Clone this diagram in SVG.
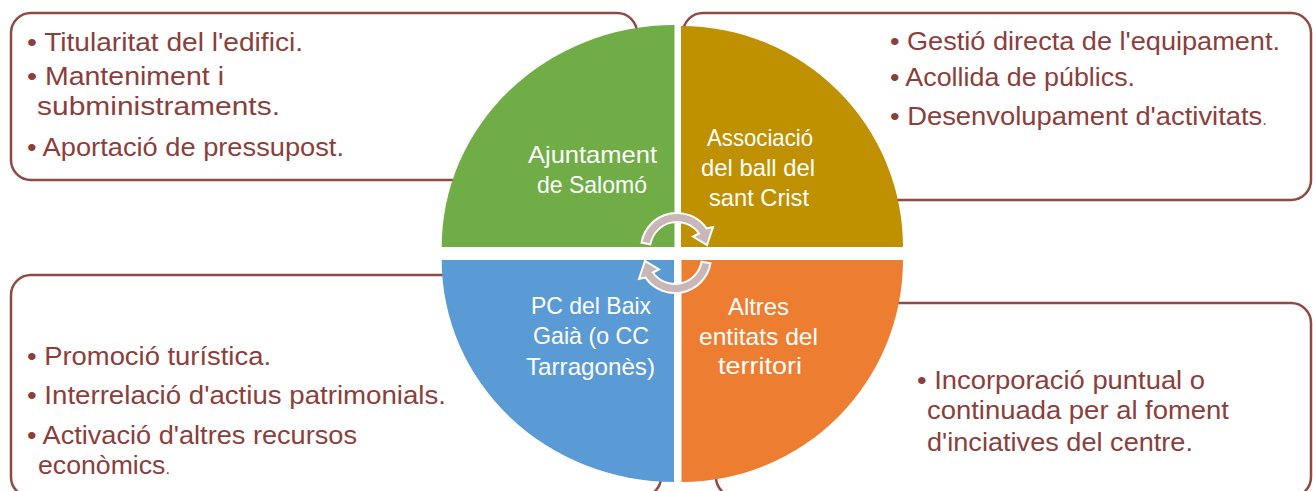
<svg xmlns="http://www.w3.org/2000/svg" width="1313" height="491" viewBox="0 0 1313 491">
<style>
.box{fill:#fff;stroke:#8F4A46;stroke-width:2.5}
.bt{font-family:"Liberation Sans",Arial,sans-serif;font-size:26px;fill:#8A3F3D}
.qt{font-family:"Liberation Sans",Arial,sans-serif;font-size:24px;fill:#fff;text-anchor:middle}
.arr{fill:#C9B6B6;stroke:#fff;stroke-width:2;stroke-linejoin:miter}
</style>
<rect width="1313" height="491" fill="#fff"/>
<g id="box-tl">
<rect class="box" x="11" y="13" width="626" height="167" rx="20"/>
<text class="bt" x="27" y="51" textLength="276" lengthAdjust="spacingAndGlyphs">• Titularitat del l'edifici.</text>
<text class="bt" x="27" y="85" textLength="197" lengthAdjust="spacingAndGlyphs">• Manteniment i</text>
<text class="bt" x="37" y="115" textLength="243" lengthAdjust="spacingAndGlyphs">subministraments.</text>
<text class="bt" x="27" y="156" textLength="317" lengthAdjust="spacingAndGlyphs">• Aportació de pressupost.</text>
</g>
<g id="box-tr">
<rect class="box" x="683" y="13" width="628" height="187" rx="20"/>
<text class="bt" x="890" y="50" textLength="390" lengthAdjust="spacingAndGlyphs">• Gestió directa de l'equipament.</text>
<text class="bt" x="890" y="86" textLength="245" lengthAdjust="spacingAndGlyphs">• Acollida de públics.</text>
<text class="bt" x="890" y="125" textLength="377" lengthAdjust="spacingAndGlyphs">• Desenvolupament d'activitats<tspan font-size="16">.</tspan></text>
</g>
<g id="box-bl">
<rect class="box" x="11" y="275" width="650" height="222" rx="20"/>
<text class="bt" x="27" y="365" textLength="244" lengthAdjust="spacingAndGlyphs">• Promoció turística.</text>
<text class="bt" x="27" y="404" textLength="419" lengthAdjust="spacingAndGlyphs">• Interrelació d'actius patrimonials.</text>
<text class="bt" x="27" y="444" textLength="330" lengthAdjust="spacingAndGlyphs">• Activació d'altres recursos</text>
<text class="bt" x="38" y="474" textLength="132" lengthAdjust="spacingAndGlyphs">econòmics<tspan font-size="16">.</tspan></text>
</g>
<g id="box-br">
<rect class="box" x="716" y="303" width="595" height="194" rx="20"/>
<text class="bt" x="917" y="389" textLength="288" lengthAdjust="spacingAndGlyphs">• Incorporació puntual o</text>
<text class="bt" x="927" y="419" textLength="302" lengthAdjust="spacingAndGlyphs">continuada per al foment</text>
<text class="bt" x="927" y="451" textLength="266" lengthAdjust="spacingAndGlyphs">d'inciatives del centre.</text>
</g>
<g id="q-green">
<path d="M674.5,247 L441.7,247 A232.8,222 0 0 1 674.5,25 Z" fill="#70AD47"/>
<text class="qt" x="592.5" y="163" textLength="129" lengthAdjust="spacingAndGlyphs">Ajuntament</text>
<text class="qt" x="592" y="193" textLength="110" lengthAdjust="spacingAndGlyphs">de Salomó</text>
</g>
<g id="q-gold">
<path d="M681,247 L681,26 A222,221 0 0 1 903,247 Z" fill="#BF9000"/>
<text class="qt" x="760" y="146" textLength="106" lengthAdjust="spacingAndGlyphs">Associació</text>
<text class="qt" x="758" y="176" textLength="114" lengthAdjust="spacingAndGlyphs">del ball del</text>
<text class="qt" x="759" y="206" textLength="100" lengthAdjust="spacingAndGlyphs">sant Crist</text>
</g>
<g id="q-blue">
<path d="M674,260 L674,482 A232.3,222 0 0 1 441.7,260 Z" fill="#5B9BD5"/>
<text class="qt" x="591" y="314" textLength="120" lengthAdjust="spacingAndGlyphs">PC del Baix</text>
<text class="qt" x="591" y="344" textLength="116" lengthAdjust="spacingAndGlyphs">Gaià (o CC</text>
<text class="qt" x="590.5" y="375" textLength="129" lengthAdjust="spacingAndGlyphs">Tarragonès)</text>
</g>
<g id="q-orange">
<path d="M681.5,260 L903,260 A221.5,222 0 0 1 681.5,482 Z" fill="#ED7D31"/>
<text class="qt" x="758.5" y="315" textLength="61" lengthAdjust="spacingAndGlyphs">Altres</text>
<text class="qt" x="758.5" y="345" textLength="119" lengthAdjust="spacingAndGlyphs">entitats del</text>
<text class="qt" x="760" y="374" textLength="84" lengthAdjust="spacingAndGlyphs">territori</text>
</g>
<g id="connectors">
<path id="arrow-top" class="arr" d="M641.5,242.7 A36,36 0 0 1 706.5,228.4 L713,227 L707,245 L693,236.5 L699.1,233.5 A27,27 0 0 0 650.4,244.3 Z"/>
<path id="arrow-bottom" class="arr" d="M641.5,242.7 A36,36 0 0 1 706.5,228.4 L713,227 L707,245 L693,236.5 L699.1,233.5 A27,27 0 0 0 650.4,244.3 Z" transform="rotate(180 676 253)"/>
</g>
</svg>
